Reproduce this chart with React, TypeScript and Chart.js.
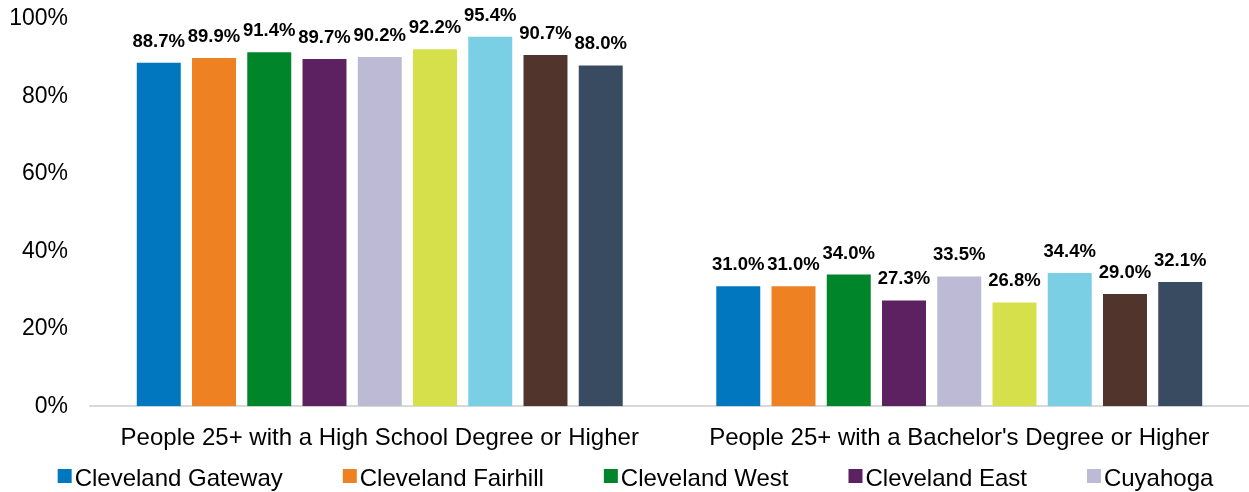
import React, { useEffect, useRef } from "react";
import { Chart, registerables } from "chart.js";

Chart.register(...registerables);

const categories = [
  "People 25+ with a High School Degree or Higher",
  "People 25+ with a Bachelor's Degree or Higher",
];

const seriesNames = [
  "Cleveland Gateway",
  "Cleveland Fairhill",
  "Cleveland West",
  "Cleveland East",
  "Cuyahoga",
  "Ohio",
  "Midwest",
  "Cleveland",
  "United States",
];

const seriesColors = [
  "#0077BE",
  "#EE8122",
  "#00852A",
  "#5C2160",
  "#BDBAD5",
  "#D5E04A",
  "#7ACFE5",
  "#51352D",
  "#384B60",
];

const clevelandGateway = [88.7, 31.0];
const clevelandFairhill = [89.9, 31.0];
const clevelandWest = [91.4, 34.0];
const clevelandEast = [89.7, 27.3];
const cuyahoga = [90.2, 33.5];
const series6 = [92.2, 26.8];
const series7 = [95.4, 34.4];
const series8 = [90.7, 29.0];
const series9 = [88.0, 32.1];

const seriesValues = [
  clevelandGateway,
  clevelandFairhill,
  clevelandWest,
  clevelandEast,
  cuyahoga,
  series6,
  series7,
  series8,
  series9,
];

const yTickValues = [0, 20, 40, 60, 80, 100];
const legendVisibleCount = 5;

const FONT = '"Liberation Sans", Arial, Helvetica, sans-serif';

const W = 1249;
const H = 492;

const dataLabelPlugin = {
  id: "dataLabels",
  afterDatasetsDraw(chart: any) {
    const ctx = chart.ctx;
    ctx.save();
    ctx.font = `bold 18.5px ${FONT}`;
    ctx.fillStyle = "#000";
    ctx.textAlign = "center";
    ctx.textBaseline = "alphabetic";
    chart.data.datasets.forEach((ds: any, i: number) => {
      const meta = chart.getDatasetMeta(i);
      meta.data.forEach((el: any, j: number) => {
        const v = ds.data[j];
        ctx.fillText(v.toFixed(1) + "%", el.x, el.y - 16);
      });
    });
    ctx.restore();
  },
};

const customLegendPlugin = {
  id: "customLegend",
  afterDraw(chart: any) {
    const ctx = chart.ctx;
    ctx.save();
    ctx.font = `24px ${FONT}`;
    ctx.textBaseline = "alphabetic";
    ctx.textAlign = "left";
    const box = 14;
    const gap = 3;
    const itemGap = 60;
    const names = seriesNames.slice(0, legendVisibleCount);
    const widths = names.map((n) => ctx.measureText(n).width);
    const total =
      widths.reduce((a, b) => a + b, 0) +
      names.length * (box + gap) +
      (names.length - 1) * itemGap;
    let x = (chart.width - total) / 2 + 11;
    const baseline = chart.height - 6;
    names.forEach((n, i) => {
      ctx.fillStyle = seriesColors[i];
      ctx.fillRect(x, baseline - 17, box, box);
      ctx.fillStyle = "#000";
      ctx.fillText(n, x + box + gap, baseline);
      x += box + gap + widths[i] + itemGap;
    });
    ctx.restore();
  },
};

export default function App() {
  const ref = useRef<HTMLCanvasElement>(null);

  useEffect(() => {
    document.body.style.margin = "0";
    if (!ref.current) return;
    const chart = new Chart(ref.current, {
      type: "bar",
      data: {
        labels: categories,
        datasets: seriesNames.map((name, i) => ({
          label: name,
          data: seriesValues[i],
          backgroundColor: seriesColors[i],
          borderWidth: 0,
          categoryPercentage: 0.858,
          barPercentage: 0.796,
        })),
      },
      options: {
        responsive: false,
        animation: false,
        layout: { padding: { top: 19, left: 0, right: 0, bottom: 21 } },
        plugins: {
          legend: { display: false },
          tooltip: { enabled: false },
        },
        scales: {
          x: {
            grid: { display: false, drawTicks: false },
            border: { display: true, color: "#D9D9D9", width: 2 },
            ticks: {
              color: "#000",
              font: { family: FONT, size: 24 },
              padding: 18,
              maxRotation: 0,
            },
          },
          y: {
            min: 0,
            max: 100,
            grid: { display: false, drawTicks: false },
            border: { display: false },
            afterFit: (scale: any) => {
              scale.width = 90;
              scale.paddingTop = 0;
              scale.paddingBottom = 0;
            },
            afterBuildTicks: (axis: any) => {
              axis.ticks = yTickValues.map((v) => ({ value: v }));
            },
            ticks: {
              color: "#000",
              font: { family: FONT, size: 23 },
              padding: 22,
              callback: (v: any) => v + "%",
            },
          },
        },
      },
      plugins: [dataLabelPlugin, customLegendPlugin],
    });
    return () => chart.destroy();
  }, []);

  return (
    <div style={{ width: W, height: H }}>
      <canvas ref={ref} width={W} height={H} style={{ display: "block" }} />
    </div>
  );
}
